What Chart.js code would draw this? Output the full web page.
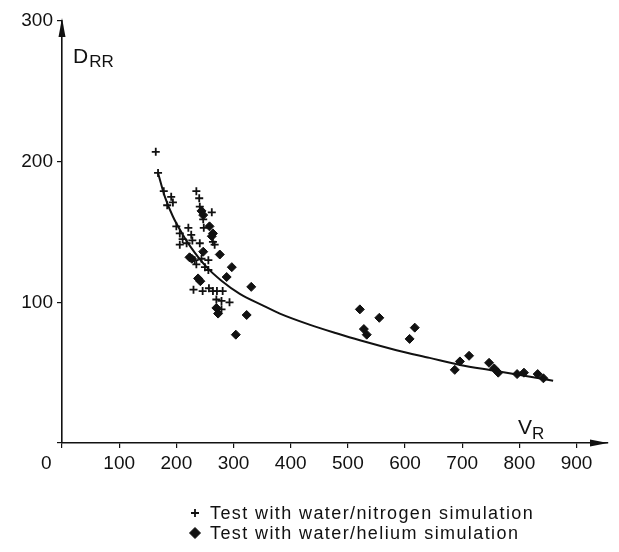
<!DOCTYPE html>
<html>
<head>
<meta charset="utf-8">
<script src="https://cdn.jsdelivr.net/npm/chart.js@4.4.0/dist/chart.umd.min.js"></script>
<style>
html,body{margin:0;padding:0;background:#fff;}
#wrap{position:relative;width:619px;height:552px;}
</style>
</head>
<body>
<div id="wrap"><canvas id="c" width="619" height="552"></canvas></div>
<script>
// ---- data ----
const xTickValues = [0, 100, 200, 300, 400, 500, 600, 700, 800, 900];
const yTickValues = [0, 100, 200, 300];
const xAxisLabel = ["V", "R"];
const yAxisLabel = ["D", "RR"];
const legendLabels = ["Test with water/nitrogen simulation", "Test with water/helium simulation"];

// water/nitrogen tests (+)
const nitrogenV = [164, 168, 178, 184, 191, 194, 200, 206, 206, 211, 218, 221, 226, 228, 224, 232, 235, 244, 256, 250, 256,
                   235, 240, 241, 247, 248, 262, 241, 264, 267,
                   230, 246, 257, 264, 271, 281, 270, 279, 293, 279];
const nitrogenD = [207, 192, 179, 169, 175, 171, 154, 149, 141, 145, 142, 153, 148, 144, 132, 130, 127, 131, 130, 125, 123,
                   179, 174, 168, 159, 153, 164, 142, 143, 141,
                   109, 108, 110, 108, 108, 108, 102, 101, 100, 95];
// water/helium tests (diamond)
const heliumV = [244, 247, 258, 264, 262, 247, 276, 223, 227, 288, 297, 238, 242, 331, 273, 270, 323, 304,
                 521, 555, 528, 533, 617, 608, 712, 696, 687, 747, 756, 763, 796, 808, 832, 842];
const heliumD = [165, 162, 154, 149, 147, 136, 134, 132, 131, 118, 125, 117, 115, 111, 92, 96, 91, 77,
                 95, 89, 81, 77, 82, 74, 62, 58, 52, 57, 53, 50, 49, 50, 49, 46];
// fitted curve, points
const curveV = [168, 180, 194, 210, 224, 253, 280, 311, 350, 381, 434, 480, 521, 585, 643, 696, 754, 801, 859];
const curveD = [192, 175, 161, 149, 140, 125, 115, 106, 98, 92, 84, 78, 73, 66, 60.5, 55.5, 51.5, 48.3, 44.3];

const toPts = (xs, ys) => xs.map((x, i) => ({x: x, y: ys[i]}));
const INK = '#111';
const FONT = '"Liberation Sans", Arial, Helvetica, sans-serif';

const decor = {
  id: 'decor',
  afterDraw(chart) {
    const ctx = chart.ctx;
    const a = chart.chartArea;
    ctx.save();
    ctx.fillStyle = INK;
    // arrow on y axis
    ctx.beginPath();
    ctx.moveTo(a.left, a.top - 3);
    ctx.lineTo(a.left - 3.5, a.top + 16);
    ctx.lineTo(a.left + 3.5, a.top + 16);
    ctx.closePath();
    ctx.fill();
    // arrow on x axis
    ctx.beginPath();
    ctx.moveTo(a.right, a.bottom);
    ctx.lineTo(a.right - 18, a.bottom - 3.5);
    ctx.lineTo(a.right - 18, a.bottom + 3.5);
    ctx.closePath();
    ctx.fill();
    // axis names with subscripts
    ctx.textBaseline = 'alphabetic';
    ctx.textAlign = 'left';
    ctx.font = '21px ' + FONT;
    ctx.fillText(yAxisLabel[0], 73, 63);
    let w = ctx.measureText(yAxisLabel[0]).width;
    ctx.font = '17px ' + FONT;
    ctx.fillText(yAxisLabel[1], 73 + w + 1, 67);
    ctx.font = '21px ' + FONT;
    ctx.fillText(xAxisLabel[0], 518, 434);
    w = ctx.measureText(xAxisLabel[0]).width;
    ctx.font = '17px ' + FONT;
    ctx.fillText(xAxisLabel[1], 518 + w, 439);
    // legend
    const ds = chart.data.datasets;
    const rows = [{ds: ds[0], y: 513}, {ds: ds[1], y: 533}];
    const sx = 195;
    rows.forEach((r) => {
      ctx.strokeStyle = INK; ctx.fillStyle = INK;
      ctx.lineWidth = r.ds.borderWidth;
      if (r.ds.pointStyle === 'cross') {
        ctx.beginPath();
        ctx.moveTo(sx - 4, r.y); ctx.lineTo(sx + 4, r.y);
        ctx.moveTo(sx, r.y - 4); ctx.lineTo(sx, r.y + 4);
        ctx.stroke();
      } else {
        Chart.helpers.drawPoint(ctx, {
          pointStyle: r.ds.pointStyle, radius: r.ds.pointRadius + 1,
          borderWidth: r.ds.borderWidth, rotation: 0
        }, sx, r.y);
      }
      ctx.font = '18px ' + FONT;
      try { ctx.letterSpacing = '1.4px'; } catch (e) {}
      ctx.textBaseline = 'middle';
      ctx.textAlign = 'left';
      ctx.fillText(r.ds.label, 210, r.y + 1);
      try { ctx.letterSpacing = '0px'; } catch (e) {}
    });
    ctx.restore();
  }
};

new Chart(document.getElementById('c'), {
  type: 'scatter',
  data: {
    datasets: [
      {
        label: legendLabels[0],
        data: toPts(nitrogenV, nitrogenD),
        pointStyle: 'cross',
        pointRadius: 4,
        borderWidth: 1.8,
        borderColor: INK,
        backgroundColor: INK,
        showLine: false
      },
      {
        label: legendLabels[1],
        data: toPts(heliumV, heliumD),
        pointStyle: 'rectRot',
        pointRadius: 4.5,
        borderWidth: 1,
        borderColor: INK,
        backgroundColor: INK,
        showLine: false
      },
      {
        label: 'fit',
        type: 'line',
        data: toPts(curveV, curveD),
        pointRadius: 0,
        borderColor: INK,
        borderWidth: 2,
        cubicInterpolationMode: 'monotone',
        fill: false
      }
    ]
  },
  options: {
    responsive: false,
    animation: false,
    devicePixelRatio: 1,
    layout: {padding: {left: 0, right: 11, top: 21, bottom: 0}},
    plugins: {legend: {display: false}, tooltip: {enabled: false}},
    scales: {
      x: {
        type: 'linear', min: 0, max: 955,
        afterFit: s => { s.height = 109; },
        afterBuildTicks: s => { s.ticks = xTickValues.map(v => ({value: v})); },
        ticks: {
          includeBounds: false,
          color: INK,
          padding: 4,
          maxRotation: 0,
          font: {family: FONT, size: 19},
          callback: v => v === 0 ? '0' + '\u00a0'.repeat(6) : String(v)
        },
        grid: {drawOnChartArea: false, drawTicks: true, tickLength: 5, color: INK, lineWidth: 1.2},
        border: {display: true, color: INK, width: 1.6}
      },
      y: {
        type: 'linear', min: 0, max: 300,
        afterFit: s => { s.width = 62; },
        afterBuildTicks: s => { s.ticks = yTickValues.map(v => ({value: v})); },
        ticks: {
          includeBounds: false,
          color: INK,
          padding: 4,
          font: {family: FONT, size: 19},
          callback: v => v === 0 ? '' : String(v)
        },
        grid: {drawOnChartArea: false, drawTicks: true, tickLength: 5, color: INK, lineWidth: 1.2},
        border: {display: true, color: INK, width: 1.6}
      }
    }
  },
  plugins: [decor]
});
</script>
</body>
</html>
